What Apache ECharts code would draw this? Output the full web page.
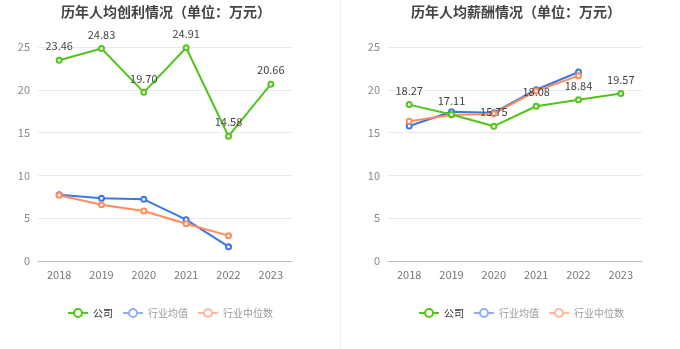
<!DOCTYPE html>
<html><head><meta charset="utf-8">
<script src="https://cdn.jsdelivr.net/npm/echarts@6/dist/echarts.min.js"></script>
<style>html,body{margin:0;padding:0;background:#fff}#c{width:680px;height:349px}</style>
</head><body><div id="c"></div>
<script>
const years = ['2018','2019','2020','2021','2022','2023'];
const profitCompany = [23.46, 24.83, 19.70, 24.91, 14.58, 20.66];
const profitIndAvg = [7.74, 7.32, 7.20, 4.83, 1.67];
const profitIndMed = [7.67, 6.58, 5.84, 4.36, 2.96];
const salaryCompany = [18.27, 17.11, 15.75, 18.08, 18.84, 19.57];
const salaryIndAvg = [15.77, 17.44, 17.33, 20.01, 22.08];
const salaryIndMed = [16.32, 17.06, 17.21, 19.86, 21.65];
const yTicks = {min: 0, max: 25, interval: 5};
const titles = ['历年人均创利情况（单位：万元）', '历年人均薪酬情况（单位：万元）'];
const names = ['公司', '行业均值', '行业中位数'];
const colors = ['#52c41a', '#3a78e6', '#ff8c5a'];
const legendColors = ['#52c41a', '#8fb0f0', '#ffb89c'];

const font = '"Noto Sans CJK SC", "Noto Sans", sans-serif';
function mkSeries(name, data, idx, color, withLabel) {
  return {
    name, type: 'line', data, xAxisIndex: idx, yAxisIndex: idx,
    symbol: 'emptyCircle', symbolSize: 5, showSymbol: true,
    lineStyle: {width: 2, color}, itemStyle: {color, borderWidth: 1.5},
    label: withLabel ? {show: true, position: 'top', color: '#444', fontSize: 11, fontFamily: font,
      formatter: p => Number(p.value).toFixed(2)} : {show: false},
    z: withLabel ? 3 : 2
  };
}
const chart = echarts.init(document.getElementById('c'), null, {renderer: 'canvas'});
const grids = [{left: 38, width: 254, top: 47, bottom: 88}, {left: 388, width: 254, top: 47, bottom: 88}];
const xAxes = grids.map((g, i) => ({
  type: 'category', gridIndex: i, data: years, boundaryGap: true,
  axisLine: {lineStyle: {color: '#bbb'}}, axisTick: {alignWithLabel: true, lineStyle: {color: '#bbb'}},
  axisLabel: {color: '#777', fontSize: 11, fontFamily: font}
}));
const yAxes = grids.map((g, i) => ({
  type: 'value', gridIndex: i, min: yTicks.min, max: yTicks.max, interval: yTicks.interval,
  axisLine: {show: false}, axisTick: {show: false},
  axisLabel: {color: '#888', fontSize: 11, fontFamily: font},
  splitLine: {lineStyle: {color: '#e6e8f2'}}
}));
const legendData = names.map((n, k) => ({
  name: n,
  textStyle: {color: k === 0 ? '#333' : '#999'},
  itemStyle: {color: legendColors[k], borderColor: legendColors[k]},
  lineStyle: {color: legendColors[k], width: 2}
}));
chart.setOption({
  animation: false,
  color: colors,
  title: titles.map((t, i) => ({
    text: t, left: i === 0 ? 161 : 511, textAlign: 'center', top: 0,
    textStyle: {fontSize: 14, fontWeight: 'bold', color: '#444', fontFamily: font}
  })),
  graphic: [{type: 'rect', shape: {x: 340, y: 0, width: 1, height: 349}, style: {fill: '#eeeeee'}}],
  legend: [0, 1].map(i => ({
    data: legendData, left: i === 0 ? 62 : 413, bottom: 26, itemWidth: 20, itemHeight: 10, itemGap: 9,
    textStyle: {fontSize: 10, fontFamily: font}
  })),
  grid: grids,
  xAxis: xAxes,
  yAxis: yAxes,
  series: [
    mkSeries(names[0], profitCompany, 0, colors[0], true),
    mkSeries(names[1], profitIndAvg, 0, colors[1], false),
    mkSeries(names[2], profitIndMed, 0, colors[2], false),
    mkSeries(names[0], salaryCompany, 1, colors[0], true),
    mkSeries(names[1], salaryIndAvg, 1, colors[1], false),
    mkSeries(names[2], salaryIndMed, 1, colors[2], false)
  ]
});
</script></body></html>
